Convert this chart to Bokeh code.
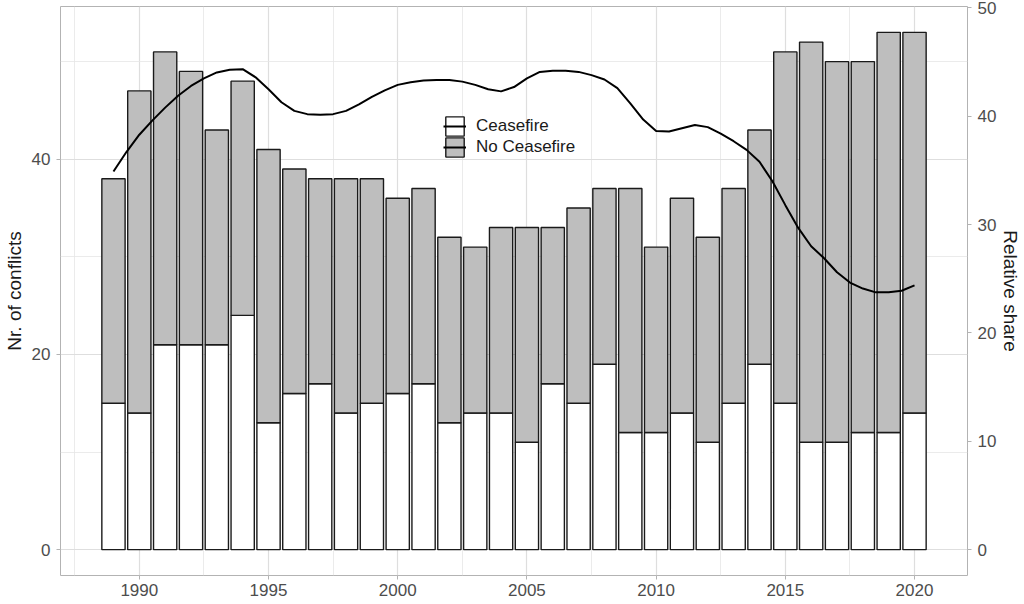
from bokeh.plotting import figure
from bokeh.models import (Range1d, LinearAxis, FixedTicker, Legend, LegendItem,
                          ColumnDataSource)
from bokeh.embed import file_html
from bokeh.resources import INLINE

# ---------------- data ----------------
years = list(range(1989, 2021))
ceasefire = [15, 14, 21, 21, 21, 24, 13, 16, 17, 14, 15, 16, 17, 13, 14, 14,
             11, 17, 15, 19, 12, 12, 14, 11, 15, 19, 15, 11, 11, 12, 12, 14]
no_ceasefire = [23, 33, 30, 28, 22, 24, 28, 23, 21, 24, 23, 20, 20, 19, 17, 19,
                22, 16, 20, 18, 25, 19, 22, 21, 22, 24, 36, 41, 39, 38, 41, 39]

# smoothed relative share (read at half-year steps)
share_years = [1989.0 + 0.5 * i for i in range(63)]
share_values = [34.9, 36.7, 38.3, 39.6, 40.8, 41.9, 42.8, 43.5, 44.05, 44.3,
                44.35, 43.6, 42.5, 41.3, 40.5, 40.2, 40.15, 40.2, 40.5, 41.1,
                41.8, 42.4, 42.9, 43.15, 43.3, 43.35, 43.35, 43.2, 42.9, 42.5,
                42.3, 42.7, 43.5, 44.1, 44.2, 44.2, 44.1, 43.8, 43.4, 42.6,
                41.2, 39.7, 38.65, 38.6, 38.9, 39.2, 39.0, 38.4, 37.7, 36.9,
                35.8, 34.0, 31.8, 29.7, 28.0, 26.9, 25.6, 24.65, 24.1, 23.75,
                23.75, 23.9, 24.4]

x_ticks = [1990, 1995, 2000, 2005, 2010, 2015, 2020]
x_minor = [1987.5, 1992.5, 1997.5, 2002.5, 2007.5, 2012.5, 2017.5]
y_ticks = [0, 20, 40]
y_minor = [10, 30, 50]
share_ticks = [0, 10, 20, 30, 40, 50]
legend_labels = ["Ceasefire", "No Ceasefire"]

FONT = "Liberation Sans"
SCALE = 1.11  # primary / secondary axis ratio

ymin, ymax = -2.65, 55.65

p = figure(width=1024, height=604,
           x_range=Range1d(1986.95, 2022.05),
           y_range=Range1d(ymin, ymax),
           output_backend="svg", toolbar_location=None,
           min_border_left=60, min_border_right=56,
           min_border_top=6, min_border_bottom=29)
p.extra_y_ranges = {"share": Range1d(ymin / SCALE, ymax / SCALE)}

p.background_fill_color = "white"
p.border_fill_color = "white"
p.outline_line_color = "#B3B3B3"
p.outline_line_width = 1

src = ColumnDataSource(dict(year=years, ceasefire=ceasefire,
                            no_ceasefire=no_ceasefire))
bars = p.vbar_stack(["ceasefire", "no_ceasefire"], x="year", width=0.9,
                    source=src, fill_color=["white", "#BEBEBE"],
                    line_color="#1A1A1A", line_width=1.4)

line = p.line(share_years, share_values, y_range_name="share",
              line_color="black", line_width=2.0)

# grids
p.xgrid.ticker = FixedTicker(ticks=x_ticks, minor_ticks=x_minor)
p.ygrid.ticker = FixedTicker(ticks=y_ticks, minor_ticks=y_minor)
for g in (p.xgrid[0], p.ygrid[0]):
    g.grid_line_color = "#DEDEDE"
    g.grid_line_width = 1.2
    g.minor_grid_line_color = "#E6E6E6"
    g.minor_grid_line_width = 0.8

# axes
p.xaxis.ticker = FixedTicker(ticks=x_ticks)
p.yaxis.ticker = FixedTicker(ticks=y_ticks)
p.yaxis.axis_label = "Nr. of conflicts"

right = LinearAxis(y_range_name="share",
                   ticker=FixedTicker(ticks=share_ticks),
                   axis_label="Relative share")
p.add_layout(right, "right")

for ax in (p.xaxis[0], p.yaxis[0], right):
    ax.axis_line_color = None
    ax.major_tick_line_color = "#B3B3B3"
    ax.major_tick_out = 4
    ax.major_tick_in = 0
    ax.minor_tick_line_color = None
    ax.major_label_text_font = FONT
    ax.major_label_text_font_size = "17px"
    ax.major_label_text_color = "#4D4D4D"
    ax.major_label_standoff = 3
    ax.axis_label_text_font = FONT
    ax.axis_label_text_font_size = "19px"
    ax.axis_label_text_font_style = "normal"
    ax.axis_label_text_color = "#1A1A1A"
    ax.axis_label_standoff = 2

p.yaxis.major_label_standoff = 6
p.yaxis.axis_label_standoff = 4
right.axis_label_standoff = 1
p.xaxis.major_label_standoff = 4

# one legend per entry so the row pitch matches the reference
for lab, bar, off in zip(legend_labels, bars, [437, 416]):
    lg = Legend(items=[LegendItem(label=lab, renderers=[bar, line])],
                location=(383, off))
    lg.background_fill_alpha = 0
    lg.border_line_alpha = 0
    lg.padding = 0
    lg.margin = 0
    lg.glyph_width = 23
    lg.glyph_height = 24
    lg.label_height = 24
    lg.label_standoff = 10
    lg.label_text_font = FONT
    lg.label_text_font_size = "17px"
    lg.label_text_color = "#1A1A1A"
    p.add_layout(lg)

open("out.html", "w").write(file_html(p, INLINE))
